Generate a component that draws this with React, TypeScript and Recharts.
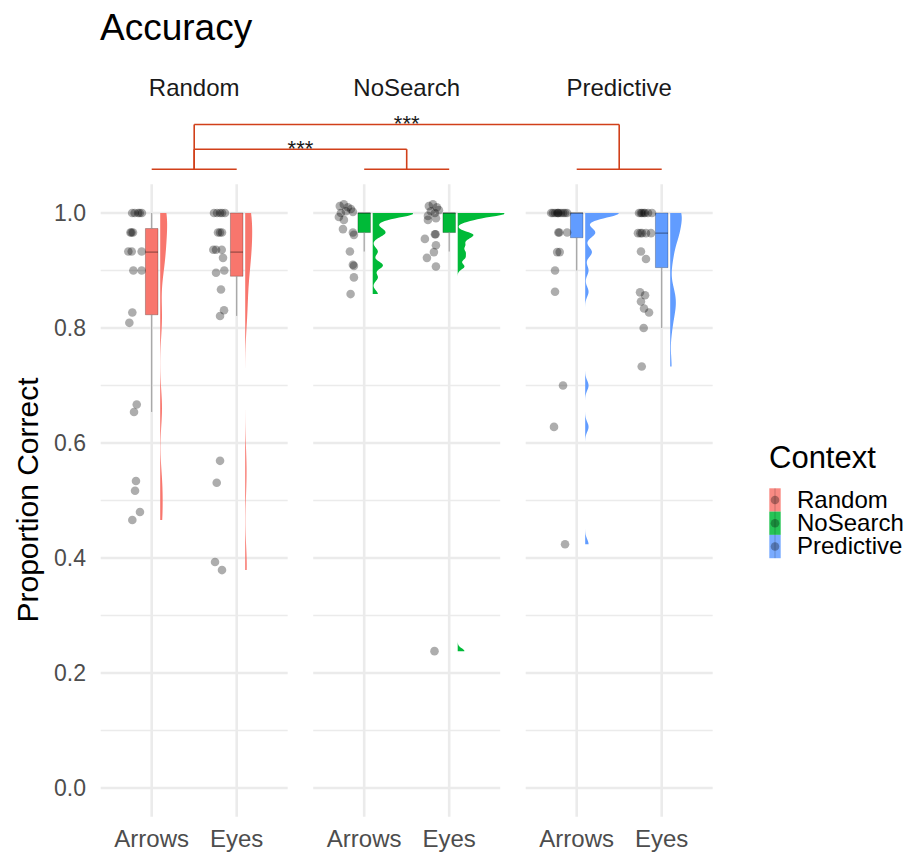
import React from 'react';
import {
  ComposedChart,
  XAxis,
  YAxis,
  Area,
  Scatter,
  ReferenceLine,
  ReferenceArea,
  ReferenceDot,
} from 'recharts';

const FONT = '"Liberation Sans", Arial, Helvetica, sans-serif';

// ---------------- data ----------------
const contexts = ['Random', 'NoSearch', 'Predictive'];
const contextColors = ['#F8766D', '#00BA38', '#619CFF'];
const cues = ['Arrows', 'Eyes'];

// proportion correct per participant (points) and horizontal jitter offsets (category units)
const randomArrowsValues = [1, 1, 1, 1, 1, 0.966, 0.966, 0.966, 0.933, 0.933, 0.933, 0.9, 0.9, 0.827, 0.809, 0.667, 0.654, 0.534, 0.517, 0.48, 0.466];
const randomArrowsJitter = [-0.23, -0.2, -0.16, -0.14, -0.115, -0.25, -0.238, -0.22, -0.275, -0.235, -0.118, -0.216, -0.118, -0.228, -0.263, -0.176, -0.208, -0.185, -0.196, -0.138, -0.228];

const randomEyesValues = [1, 1, 1, 1, 1, 0.966, 0.966, 0.966, 0.936, 0.936, 0.936, 0.922, 0.9, 0.896, 0.867, 0.831, 0.821, 0.569, 0.531, 0.393, 0.379];
const randomEyesJitter = [-0.267, -0.231, -0.196, -0.172, -0.138, -0.22, -0.196, -0.173, -0.275, -0.243, -0.176, -0.161, -0.146, -0.243, -0.185, -0.149, -0.196, -0.196, -0.235, -0.255, -0.173];

const noSearchArrowsValues = [1.012, 1.015, 1.01, 1.007, 1.003, 1.0, 1.002, 0.993, 0.988, 0.972, 0.966, 0.962, 0.933, 0.908, 0.91, 0.888, 0.859];
const noSearchArrowsJitter = [-0.287, -0.24, -0.192, -0.156, -0.215, -0.274, -0.133, -0.298, -0.239, -0.25, -0.133, -0.121, -0.168, -0.121, -0.133, -0.121, -0.16];

const noSearchEyesValues = [1.012, 1.015, 1.01, 1.003, 1.0, 1.005, 0.995, 0.991, 0.988, 0.963, 0.963, 0.955, 0.944, 0.932, 0.922, 0.907, 0.238];
const noSearchEyesJitter = [-0.239, -0.192, -0.145, -0.215, -0.168, -0.121, -0.25, -0.156, -0.25, -0.168, -0.16, -0.286, -0.156, -0.18, -0.262, -0.156, -0.173];

const predictiveArrowsValues = [1, 1, 1, 1, 1, 1, 1, 1, 1, 1, 0.966, 0.966, 0.966, 0.932, 0.932, 0.9, 0.863, 0.7, 0.628, 0.424];
const predictiveArrowsJitter = [-0.3, -0.28, -0.255, -0.23, -0.21, -0.185, -0.16, -0.137, -0.113, -0.22, -0.216, -0.205, -0.113, -0.23, -0.2, -0.255, -0.255, -0.161, -0.267, -0.137];

const predictiveEyesValues = [1, 1, 1, 1, 1, 1, 1, 0.965, 0.965, 0.965, 0.965, 0.965, 0.933, 0.92, 0.862, 0.857, 0.846, 0.834, 0.827, 0.8, 0.733];
const predictiveEyesJitter = [-0.267, -0.245, -0.231, -0.21, -0.196, -0.161, -0.114, -0.279, -0.25, -0.231, -0.185, -0.126, -0.244, -0.185, -0.255, -0.196, -0.244, -0.208, -0.149, -0.212, -0.235];

// box plot statistics per group (Random-Arrows, Random-Eyes, NoSearch-Arrows, NoSearch-Eyes, Predictive-Arrows, Predictive-Eyes)
const boxQ1 = [0.823, 0.89, 0.966, 0.966, 0.957, 0.905];
const boxMedian = [0.932, 0.932, 1, 1, 1, 0.965];
const boxQ3 = [0.973, 1, 1, 1, 1, 1];
const whiskerLow = [0.654, 0.821, 0.933, 0.933, 0.9, 0.8];
const whiskerHigh = [1, 1, 1, 1, 1, 1];

// kernel bandwidth of each half violin
const violinBandwidth = [0.03, 0.035, 0.0065, 0.005, 0.0085, 0.02];

// significance brackets between contexts
const bracketFrom = [0, 0];
const bracketTo = [2, 1];
const bracketLevel = [1.154, 1.111];
const bracketLabels = ['***', '***'];
const bracketBaseLevel = 1.076;

const yTicks = [0, 0.2, 0.4, 0.6, 0.8, 1.0];
const yGrid = [0, 0.1, 0.2, 0.3, 0.4, 0.5, 0.6, 0.7, 0.8, 0.9, 1.0];

// ---------------- layout helpers ----------------
const PANEL_STRIDE = 2.5;
const catPos = (c: number, k: number) => 1 + k + c * PANEL_STRIDE;
const panelLo = (c: number) => 0.4 + c * PANEL_STRIDE;
const panelHi = (c: number) => 2.6 + c * PANEL_STRIDE;
const panelMid = (c: number) => 1.5 + c * PANEL_STRIDE;
const X_DOMAIN: [number, number] = [0.4, 2.6 + 2 * PANEL_STRIDE];
const Y_DOMAIN: [number, number] = [-0.05, 1.17];
const PANEL_Y: [number, number] = [-0.05, 1.05];

const groupValues = [randomArrowsValues, randomEyesValues, noSearchArrowsValues, noSearchEyesValues, predictiveArrowsValues, predictiveEyesValues];
const groupJitter = [randomArrowsJitter, randomEyesJitter, noSearchArrowsJitter, noSearchEyesJitter, predictiveArrowsJitter, predictiveEyesJitter];

const groups = groupValues.map((vals, i) => {
  const ctx = Math.floor(i / 2);
  const cue = i % 2;
  const clipped = vals.map((v) => Math.min(v, 1));
  return {
    i,
    ctx,
    cue,
    x: catPos(ctx, cue),
    vals,
    jit: groupJitter[i],
    clipped,
    vmin: Math.min(...clipped),
    vmax: Math.max(...clipped),
  };
});

const gauss = (u: number) => Math.exp(-0.5 * u * u) / Math.sqrt(2 * Math.PI);
const density = (vals: number[], h: number, y: number) =>
  vals.reduce((s, v) => s + gauss((y - v) / h), 0) / (vals.length * h);

// y grid for violins
const ySet = new Set<number>();
for (let i = 0; i <= 534; i++) ySet.add(+(0.2 + i * 0.0015).toFixed(5));
ySet.add(1);
groups.forEach((g) => {
  ySet.add(g.vmin);
  ySet.add(g.vmax);
});
const violinY = Array.from(ySet).filter((y) => y <= 1).sort((a, b) => a - b);

const dens = groups.map((g) =>
  violinY.map((y) => (y >= g.vmin - 1e-9 && y <= g.vmax + 1e-9 ? density(g.clipped, violinBandwidth[g.i], y) : null))
);
const globalMax = Math.max(...dens.flat().filter((d): d is number => d !== null));
const VIOLIN_MAX_WIDTH = 0.55;
const VIOLIN_NUDGE = 0.1;

const violinRows = violinY.map((y, r) => {
  const row: Record<string, any> = { y };
  groups.forEach((g) => {
    const d = dens[g.i][r];
    const base = g.x + VIOLIN_NUDGE;
    row['v' + g.i] = d === null ? null : [base, base + (d / globalMax) * VIOLIN_MAX_WIDTH];
  });
  return row;
});

const catTicks: number[] = [];
const catLabel: Record<string, string> = {};
contexts.forEach((_, c) =>
  cues.forEach((cue, k) => {
    const p = catPos(c, k);
    catTicks.push(p);
    catLabel[p.toFixed(2)] = cue;
  })
);
const stripTicks = contexts.map((_, c) => panelMid(c));
const stripLabel: Record<string, string> = {};
contexts.forEach((name, c) => (stripLabel[panelMid(c).toFixed(2)] = name));

const GRID = '#EBEBEB';
const BRACKET = '#D1401A';

const Dot = (p: any) => <circle cx={p.cx} cy={p.cy} r={4.3} fill="#000" fillOpacity={0.32} />;

export default function App() {
  return (
    <div style={{ position: 'absolute', left: 0, top: 0, width: 913, height: 854, background: '#fff', fontFamily: FONT }}>
      <ComposedChart
        layout="vertical"
        width={913}
        height={854}
        data={violinRows}
        margin={{ top: 75.25, right: 200.3, bottom: 0, left: 0 }}
      >
        <XAxis
          xAxisId={0}
          type="number"
          dataKey="x"
          domain={X_DOMAIN}
          allowDataOverflow
          ticks={catTicks}
          interval={0}
          tickFormatter={(v: number) => catLabel[v.toFixed(2)] ?? ''}
          axisLine={false}
          tickLine={false}
          tickSize={0}
          tickMargin={13}
          height={37.25}
          tick={{ fill: '#4D4D4D', fontSize: 24, fontFamily: FONT }}
        />
        <XAxis
          xAxisId="strip"
          orientation="top"
          type="number"
          domain={X_DOMAIN}
          allowDataOverflow
          ticks={stripTicks}
          interval={0}
          tickFormatter={(v: number) => stripLabel[v.toFixed(2)] ?? ''}
          axisLine={false}
          tickLine={false}
          tickSize={0}
          tickMargin={19}
          height={40}
          tick={{ fill: '#1A1A1A', fontSize: 24, fontFamily: FONT }}
        />
        <YAxis
          type="number"
          dataKey="y"
          domain={Y_DOMAIN}
          reversed
          allowDataOverflow
          ticks={yTicks}
          interval={0}
          tickFormatter={(v: number) => v.toFixed(1)}
          axisLine={false}
          tickLine={false}
          tickSize={0}
          tickMargin={14.7}
          width={100.7}
          tick={{ fill: '#4D4D4D', fontSize: 23, fontFamily: FONT }}
        />

        {/* panel grid lines */}
        {contexts.map((_, c) =>
          yGrid.map((gy, j) => (
            <ReferenceLine
              key={`h${c}-${j}`}
              segment={[{ x: panelLo(c), y: gy }, { x: panelHi(c), y: gy }]}
              stroke={GRID}
              strokeWidth={j % 2 === 0 ? 2.6 : 1.3}
              ifOverflow="visible"
              zIndex={-100}
            />
          ))
        )}
        {catTicks.map((cx, j) => (
          <ReferenceLine
            key={`v${j}`}
            segment={[{ x: cx, y: PANEL_Y[0] }, { x: cx, y: PANEL_Y[1] }]}
            stroke={GRID}
            strokeWidth={2.6}
            ifOverflow="visible"
            zIndex={-100}
          />
        ))}

        {/* half violins */}
        {groups.map((g) => (
          <Area
            key={`vio${g.i}`}
            dataKey={'v' + g.i}
            type="linear"
            fill={contextColors[g.ctx]}
            fillOpacity={1}
            stroke="none"
            dot={false}
            activeDot={false}
            connectNulls={false}
            isAnimationActive={false}
          />
        ))}

        {/* box plots */}
        {groups.map((g) => (
          <ReferenceLine
            key={`wu${g.i}`}
            segment={[{ x: g.x, y: boxQ3[g.i] }, { x: g.x, y: whiskerHigh[g.i] }]}
            stroke="#9A9A9A"
            strokeWidth={1}
            ifOverflow="visible"
          />
        ))}
        {groups.map((g) => (
          <ReferenceLine
            key={`wl${g.i}`}
            segment={[{ x: g.x, y: whiskerLow[g.i] }, { x: g.x, y: boxQ1[g.i] }]}
            stroke="#9A9A9A"
            strokeWidth={1}
            ifOverflow="visible"
          />
        ))}
        {groups.map((g) => (
          <ReferenceArea
            key={`box${g.i}`}
            x1={g.x - 0.074}
            x2={g.x + 0.074}
            y1={boxQ1[g.i]}
            y2={boxQ3[g.i]}
            fill={contextColors[g.ctx]}
            fillOpacity={1}
            stroke="#000"
            strokeOpacity={0.3}
            strokeWidth={0.8}
            ifOverflow="visible"
          />
        ))}
        {groups.map((g) => (
          <ReferenceLine
            key={`med${g.i}`}
            segment={[{ x: g.x - 0.074, y: boxMedian[g.i] }, { x: g.x + 0.074, y: boxMedian[g.i] }]}
            stroke="#000"
            strokeOpacity={0.4}
            strokeWidth={1.2}
            ifOverflow="visible"
          />
        ))}

        {/* raw points */}
        {groups.map((g) => (
          <Scatter
            key={`pts${g.i}`}
            data={g.vals.map((v, k) => ({ x: g.x + g.jit[k], y: v }))}
            shape={Dot}
            isAnimationActive={false}
          />
        ))}

        {/* significance brackets */}
        {contexts.map((_, c) => (
          <ReferenceLine
            key={`ul${c}`}
            segment={[{ x: catPos(c, 0), y: bracketBaseLevel }, { x: catPos(c, 1), y: bracketBaseLevel }]}
            stroke={BRACKET}
            strokeWidth={1.6}
            ifOverflow="visible"
          />
        ))}
        {bracketLevel.map((lv, b) => (
          <ReferenceLine
            key={`bh${b}`}
            segment={[{ x: panelMid(bracketFrom[b]), y: lv }, { x: panelMid(bracketTo[b]), y: lv }]}
            stroke={BRACKET}
            strokeWidth={1.6}
            ifOverflow="visible"
          />
        ))}
        {bracketLevel.map((lv, b) => (
          <ReferenceLine
            key={`bl${b}`}
            segment={[{ x: panelMid(bracketFrom[b]), y: lv }, { x: panelMid(bracketFrom[b]), y: bracketBaseLevel }]}
            stroke={BRACKET}
            strokeWidth={1.6}
            ifOverflow="visible"
          />
        ))}
        {bracketLevel.map((lv, b) => (
          <ReferenceLine
            key={`br${b}`}
            segment={[{ x: panelMid(bracketTo[b]), y: lv }, { x: panelMid(bracketTo[b]), y: bracketBaseLevel }]}
            stroke={BRACKET}
            strokeWidth={1.6}
            ifOverflow="visible"
          />
        ))}
        {bracketLevel.map((lv, b) => (
          <ReferenceDot
            key={`bt${b}`}
            x={(panelMid(bracketFrom[b]) + panelMid(bracketTo[b])) / 2}
            y={lv}
            r={0}
            fill="none"
            stroke="none"
            ifOverflow="visible"
            label={{ value: bracketLabels[b], position: 'top', offset: -7, fill: '#1A1A1A', fontSize: 22, fontFamily: FONT }}
          />
        ))}
      </ComposedChart>

      {/* title, axis title and legend */}
      <svg
        width={913}
        height={854}
        style={{ position: 'absolute', left: 0, top: 0, pointerEvents: 'none' }}
      >
        <text x={100} y={40} fontSize={37} fill="#000" fontFamily={FONT}>
          Accuracy
        </text>
        <text
          transform="translate(38,500) rotate(-90)"
          textAnchor="middle"
          fontSize={30}
          fill="#000"
          fontFamily={FONT}
        >
          Proportion Correct
        </text>
        <text x={769} y={468} fontSize={31} fill="#000" fontFamily={FONT}>
          Context
        </text>
        {contexts.map((name, c) => {
          const top = 488.3 + c * 23.3;
          return (
            <g key={name}>
              <rect x={769.3} y={top} width={11.4} height={23.3} fill={contextColors[c]} fillOpacity={0.85} />
              <line x1={775} x2={775} y1={top} y2={top + 23.3} stroke="#000" strokeOpacity={0.2} strokeWidth={1} />
              <circle cx={775} cy={top + 11.65} r={4.3} fill="#000" fillOpacity={0.3} />
              <text x={797} y={top + 19.5} fontSize={24} fill="#000" fontFamily={FONT}>
                {name}
              </text>
            </g>
          );
        })}
      </svg>
    </div>
  );
}
